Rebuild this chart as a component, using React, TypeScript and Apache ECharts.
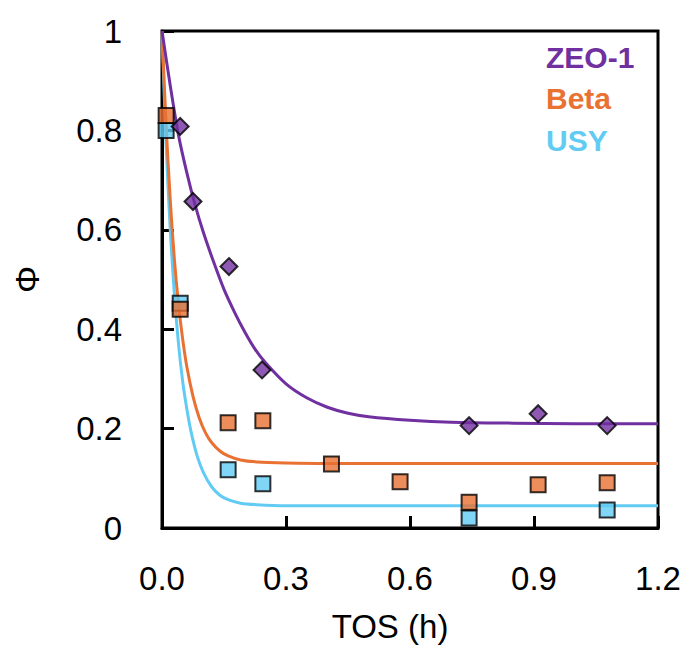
import React, { useEffect, useRef } from "react";
import * as echarts from "echarts";

const xTicks = [0, 0.3, 0.6, 0.9, 1.2];
const yTicks = [0, 0.2, 0.4, 0.6, 0.8, 1];

const zeoPoints = [
  [0.044, 0.808],
  [0.075, 0.657],
  [0.162, 0.526],
  [0.242, 0.318],
  [0.743, 0.206],
  [0.91, 0.23],
  [1.077, 0.206],
];
const betaPoints = [
  [0.01, 0.83],
  [0.044, 0.44],
  [0.16, 0.212],
  [0.244, 0.216],
  [0.41, 0.129],
  [0.576, 0.093],
  [0.743, 0.052],
  [0.91, 0.087],
  [1.077, 0.091],
];
const usyPoints = [
  [0.01, 0.8],
  [0.044, 0.452],
  [0.16, 0.117],
  [0.244, 0.089],
  [0.743, 0.02],
  [1.077, 0.036],
];

const zeoCurve = [
  [0, 1], [0.02, 0.89], [0.04, 0.79], [0.06, 0.715], [0.08, 0.65], [0.1, 0.595],
  [0.125, 0.535], [0.15, 0.48], [0.175, 0.435], [0.2, 0.395], [0.225, 0.36],
  [0.25, 0.333], [0.3, 0.29], [0.35, 0.262], [0.4, 0.243], [0.45, 0.231],
  [0.5, 0.224], [0.6, 0.217], [0.7, 0.213], [0.85, 0.211], [1.0, 0.21], [1.2, 0.21],
];
const betaCurve = [
  [0, 1], [0.01, 0.81], [0.02, 0.66], [0.03, 0.54], [0.04, 0.45], [0.05, 0.38],
  [0.06, 0.325], [0.075, 0.265], [0.09, 0.222], [0.105, 0.192], [0.12, 0.172],
  [0.14, 0.155], [0.16, 0.145], [0.19, 0.137], [0.23, 0.133], [0.3, 0.131],
  [0.4, 0.13], [0.8, 0.13], [1.2, 0.13],
];
const usyCurve = [
  [0, 1], [0.01, 0.77], [0.02, 0.6], [0.03, 0.47], [0.04, 0.37], [0.05, 0.295],
  [0.06, 0.24], [0.07, 0.195], [0.085, 0.145], [0.1, 0.112], [0.12, 0.083],
  [0.14, 0.066], [0.16, 0.057], [0.19, 0.05], [0.23, 0.047], [0.3, 0.045],
  [0.8, 0.045], [1.2, 0.045],
];

const PURPLE = "#7030A0";
const ORANGE = "#E97132";
const BLUE = "#61CBF4";

export default function App() {
  const ref = useRef<HTMLDivElement>(null);
  useEffect(() => {
    if (!ref.current) return;
    const chart = echarts.init(ref.current, undefined, { renderer: "svg" });
    const font = "Liberation Sans, Arial, sans-serif";
    const curve = (name: string, data: number[][], color: string) => ({
      name,
      type: "line",
      data,
      smooth: 0.3,
      showSymbol: false,
      lineStyle: { color, width: 3 },
      z: 2,
    });
    chart.setOption({
      animation: false,
      backgroundColor: "#fff",
      grid: {
        left: 162,
        right: 34,
        top: 31,
        bottom: 121,
        show: true,
        borderColor: "#000",
        borderWidth: 3,
        backgroundColor: "transparent",
      },
      xAxis: {
        type: "value",
        min: xTicks[0],
        max: xTicks[xTicks.length - 1],
        interval: 0.3,
        name: "TOS (h)",
        nameLocation: "middle",
        nameGap: 82,
        nameTextStyle: { fontSize: 33, color: "#000", fontFamily: font, padding: [0, 40, 0, 0] },
        axisLine: { show: true, lineStyle: { color: "#000", width: 3 } },
        axisTick: { show: true, inside: true, length: 12, lineStyle: { color: "#000", width: 3 } },
        axisLabel: {
          fontSize: 33,
          color: "#000",
          fontFamily: font,
          margin: 34,
          formatter: (v: number) => v.toFixed(1),
        },
        splitLine: { show: false },
      },
      yAxis: {
        type: "value",
        min: yTicks[0],
        max: yTicks[yTicks.length - 1],
        interval: 0.2,
        name: "Φ",
        nameLocation: "middle",
        nameRotate: 90,
        nameGap: 118,
        nameTextStyle: { fontSize: 34, color: "#000", fontFamily: font },
        axisLine: { show: true, lineStyle: { color: "#000", width: 3 } },
        axisTick: { show: true, inside: true, length: 12, lineStyle: { color: "#000", width: 3 } },
        axisLabel: {
          fontSize: 33,
          color: "#000",
          fontFamily: font,
          margin: 40,
          formatter: (v: number) => String(Math.round(v * 10) / 10),
        },
        splitLine: { show: false },
      },
      graphic: [
        { type: "text", left: 546, top: 42, style: { text: "ZEO-1", fill: PURPLE, font: `bold 30px ${font}` } },
        { type: "text", left: 546, top: 83, style: { text: "Beta", fill: ORANGE, font: `bold 30px ${font}` } },
        { type: "text", left: 546, top: 125, style: { text: "USY", fill: BLUE, font: `bold 30px ${font}` } },
      ],
      series: [
        curve("USY fit", usyCurve, BLUE),
        curve("Beta fit", betaCurve, ORANGE),
        curve("ZEO-1 fit", zeoCurve, PURPLE),
        {
          name: "USY",
          type: "scatter",
          data: usyPoints,
          symbol: "rect",
          symbolSize: 15,
          itemStyle: { color: BLUE, borderColor: "#000", borderWidth: 2 },
          z: 3,
        },
        {
          name: "Beta",
          type: "scatter",
          data: betaPoints,
          symbol: "rect",
          symbolSize: 15,
          itemStyle: { color: ORANGE, borderColor: "#000", borderWidth: 2 },
          z: 4,
        },
        {
          name: "ZEO-1",
          type: "scatter",
          data: zeoPoints,
          symbol: "diamond",
          symbolSize: 17,
          itemStyle: { color: PURPLE, borderColor: "#000", borderWidth: 2 },
          z: 5,
        },
      ],
    });
    return () => chart.dispose();
  }, []);
  return <div ref={ref} style={{ width: 692, height: 649, position: "absolute", left: 0, top: 0 }} />;
}
